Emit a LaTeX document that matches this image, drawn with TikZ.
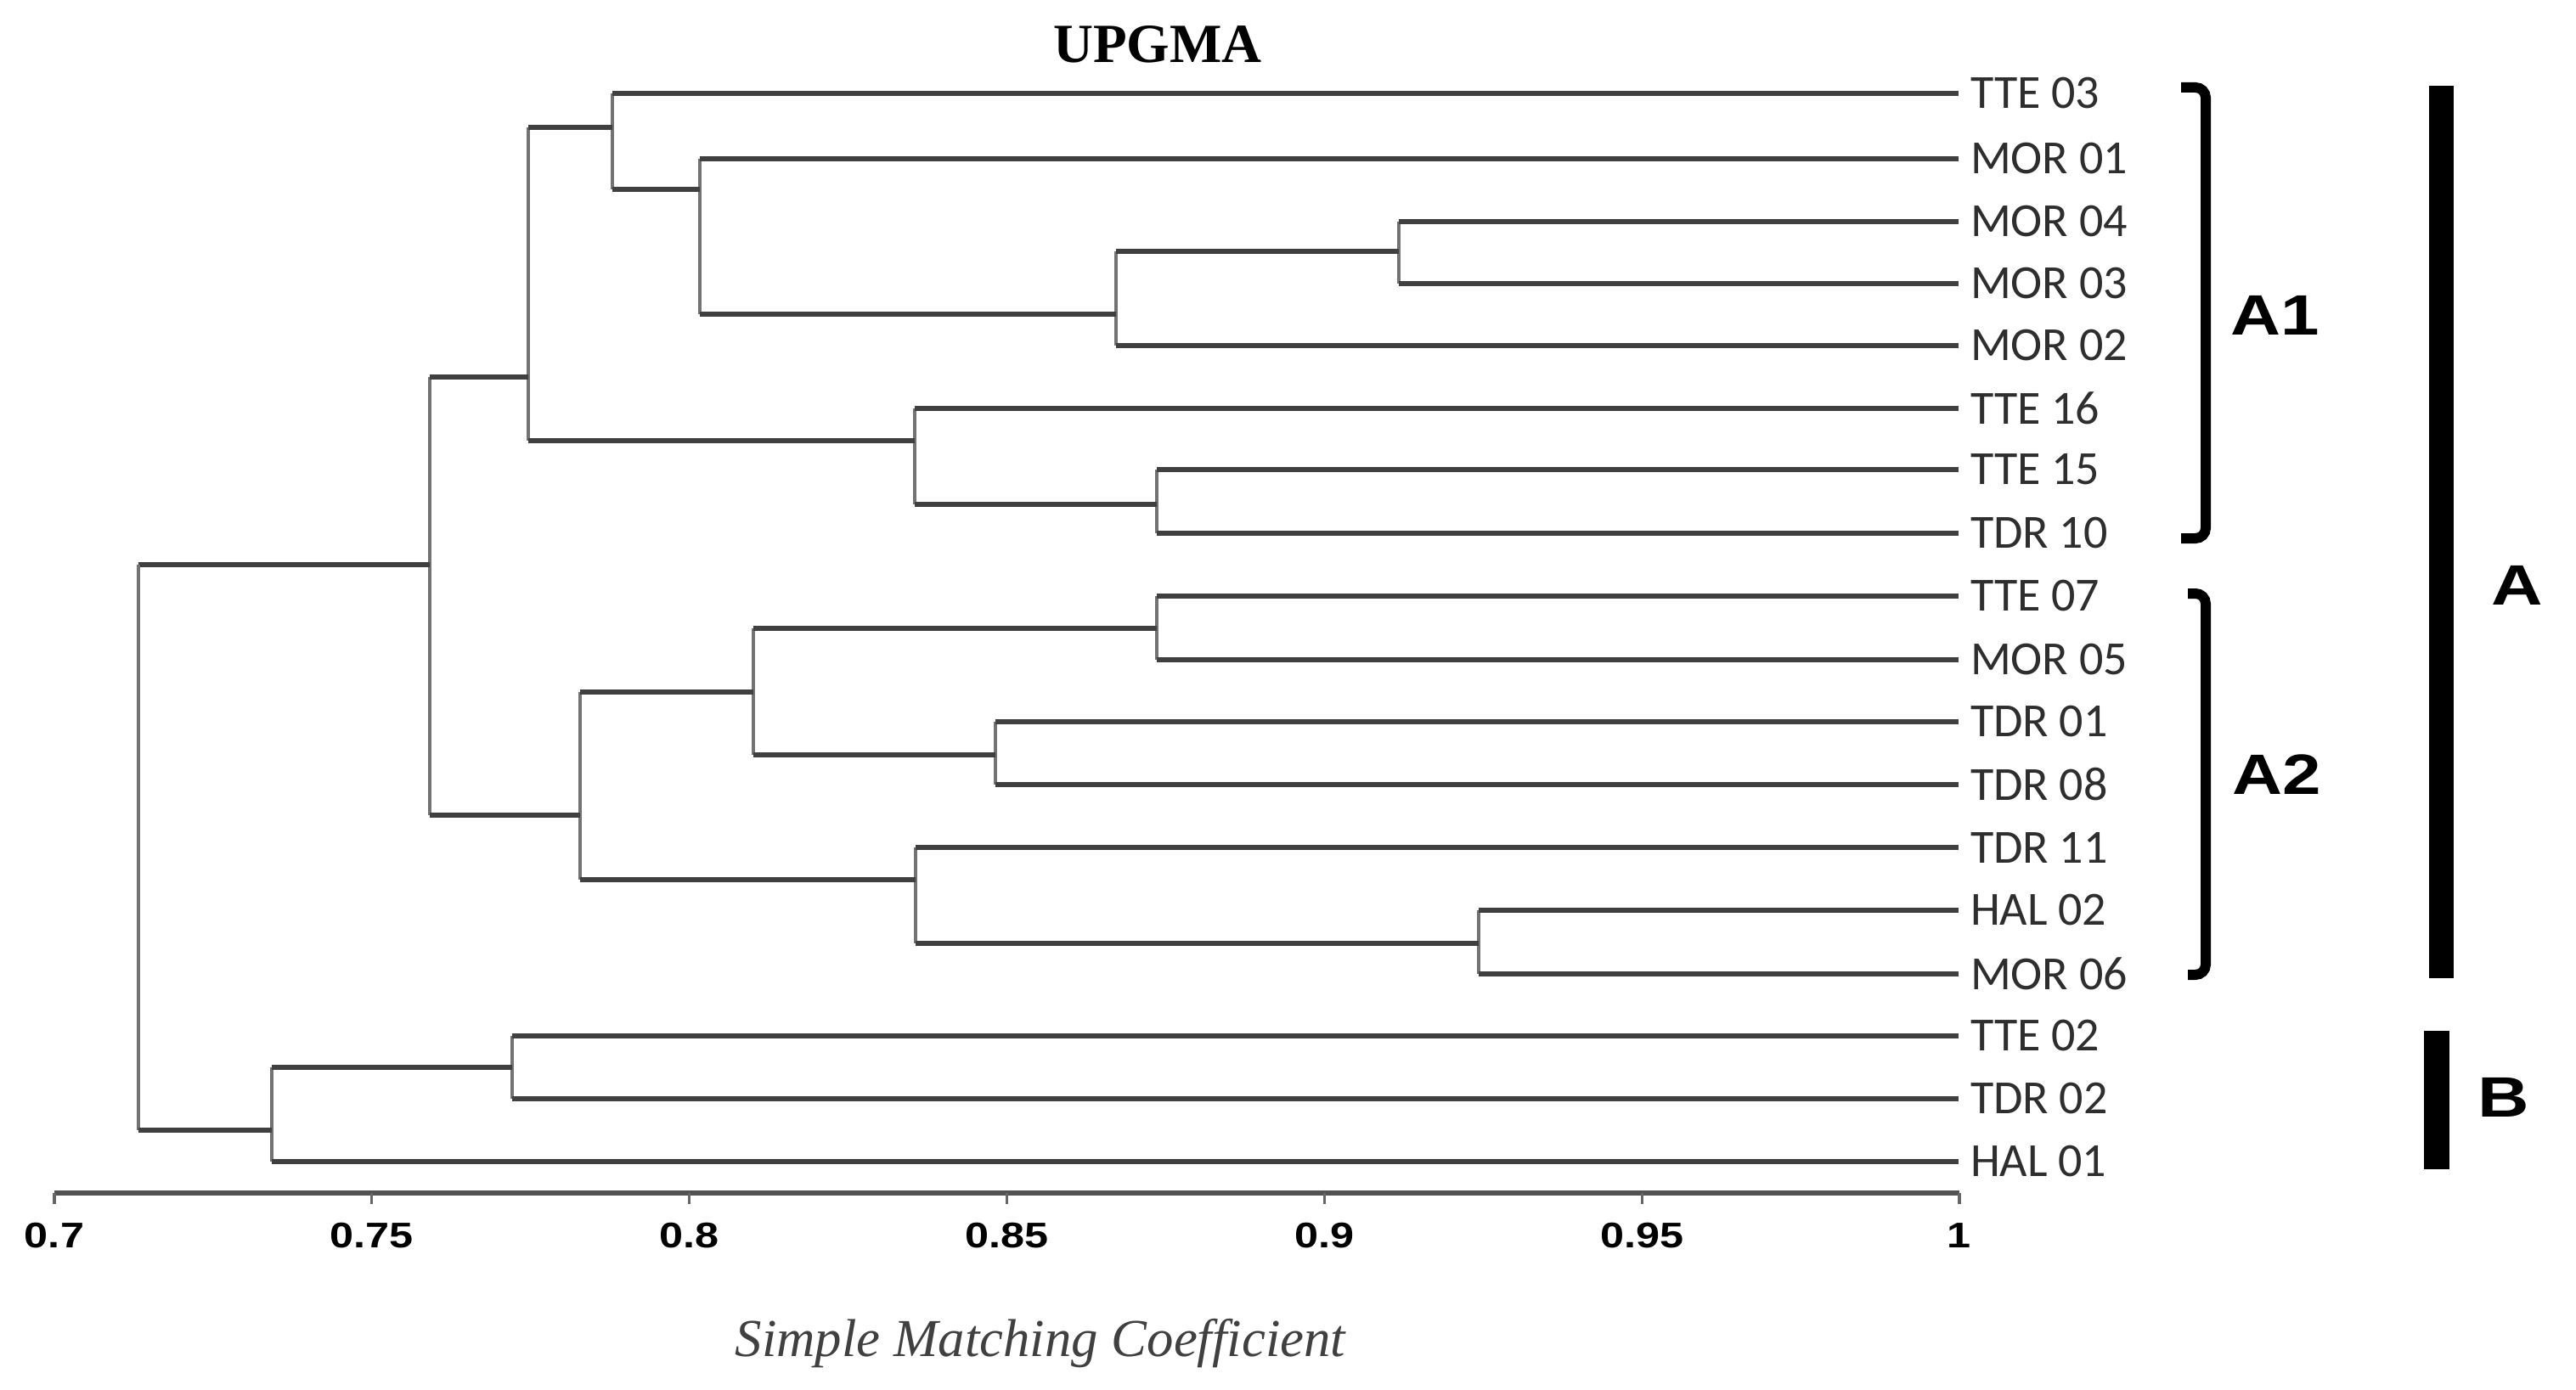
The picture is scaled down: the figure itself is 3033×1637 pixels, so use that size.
\documentclass[tikz,border=0pt]{standalone}
\usepackage{fontspec}
\usepackage{graphicx}
\setmainfont{Liberation Serif}
\newfontfamily\leaffont{Carlito}
\newfontfamily\arialfont{Liberation Sans}
\tikzset{
  hline/.style={draw=black!75, line width=1.35pt},
  vline/.style={draw=black!55, line width=0.95pt},
  leaf/.style={font=\leaffont\fontsize{14}{16}\selectfont, text=black!82, inner sep=0pt, outer xsep=3.5pt, outer ysep=0pt, anchor=west},
  ticklab/.style={font=\arialfont\bfseries\fontsize{10.5}{12}\selectfont, inner sep=0pt},
  grouplab/.style={font=\arialfont\bfseries\fontsize{16.75}{19}\selectfont, inner sep=0pt},
  bracketline/.style={draw=black, line width=3pt, rounded corners=3pt},
  axisline/.style={draw=black!68, line width=1.5pt},
  tickline/.style={draw=black!60, line width=0.8pt}
}
\newcommand\dconn[2]{\draw[vline] (#1) -- (#1 |- #2); \draw[hline] (#1 |- #2) -- (#2);}
\begin{document}
\begin{tikzpicture}[x=0.25pt,y=-0.25pt]
\useasboundingbox (0,0) rectangle (3033,1637);
\fill[white] (0,0) rectangle (3033,1637);

% title
\node[font=\bfseries\fontsize{16.25}{18}\selectfont, inner sep=0pt] (title) at (1363,52) {UPGMA};

% leaves
\node[leaf] (tte03) at (2306,110) {TTE 03};
\node[leaf] (mor01) at (2306,187) {MOR 01};
\node[leaf] (mor04) at (2306,261) {MOR 04};
\node[leaf] (mor03) at (2306,334) {MOR 03};
\node[leaf] (mor02) at (2306,407) {MOR 02};
\node[leaf] (tte16) at (2306,481) {TTE 16};
\node[leaf] (tte15) at (2306,553) {TTE 15};
\node[leaf] (tdr10) at (2306,628) {TDR 10};
\node[leaf] (tte07) at (2306,702) {TTE 07};
\node[leaf] (mor05) at (2306,777) {MOR 05};
\node[leaf] (tdr01) at (2306,850) {TDR 01};
\node[leaf] (tdr08) at (2306,924) {TDR 08};
\node[leaf] (tdr11) at (2306,998) {TDR 11};
\node[leaf] (hal02) at (2306,1072) {HAL 02};
\node[leaf] (mor06) at (2306,1147) {MOR 06};
\node[leaf] (tte02) at (2306,1220) {TTE 02};
\node[leaf] (tdr02) at (2306,1294) {TDR 02};
\node[leaf] (hal01) at (2306,1368) {HAL 01};

% internal nodes
\coordinate (n4) at (1647,296);
\coordinate (n3) at (1314,370);
\coordinate (n2) at (824,223);
\coordinate (n1) at (721,150);
\coordinate (n6) at (1362,594);
\coordinate (n5) at (1077,519);
\coordinate (a1) at (622,444);
\coordinate (n8) at (1362,740);
\coordinate (n9) at (1172,889);
\coordinate (n7) at (887,815);
\coordinate (n11) at (1741,1111);
\coordinate (n10) at (1078,1036);
\coordinate (a2) at (683,960);
\coordinate (ca) at (506,665);
\coordinate (n12) at (603,1257);
\coordinate (cb) at (320,1331);
\coordinate (root) at (163,665);

% connectors
\dconn{n4}{mor04}\dconn{n4}{mor03}
\dconn{n3}{n4}\dconn{n3}{mor02}
\dconn{n2}{mor01}\dconn{n2}{n3}
\dconn{n1}{tte03}\dconn{n1}{n2}
\dconn{n6}{tte15}\dconn{n6}{tdr10}
\dconn{n5}{tte16}\dconn{n5}{n6}
\dconn{a1}{n1}\dconn{a1}{n5}
\dconn{n8}{tte07}\dconn{n8}{mor05}
\dconn{n9}{tdr01}\dconn{n9}{tdr08}
\dconn{n7}{n8}\dconn{n7}{n9}
\dconn{n11}{hal02}\dconn{n11}{mor06}
\dconn{n10}{tdr11}\dconn{n10}{n11}
\dconn{a2}{n7}\dconn{a2}{n10}
\dconn{ca}{a1}\dconn{ca}{a2}
\dconn{n12}{tte02}\dconn{n12}{tdr02}
\dconn{cb}{n12}\dconn{cb}{hal01}
\dconn{root}{ca}\dconn{root}{cb}

% axis
\coordinate (ax0) at (64,1405);
\coordinate (ax1) at (2307,1405);
\draw[axisline] (ax0) -- (ax1);
\foreach \v/\lab [count=\i from 0] in {0.7/0.7,0.75/0.75,0.8/0.8,0.85/0.85,0.9/0.9,0.95/0.95,1/1}{
  \coordinate (tk\i) at ({64+\i*373.83},1405);
  \draw[tickline] (tk\i) -- ++(0,13);
  \node[ticklab] (tl\i) at ({64+\i*373.83},1455) {\scalebox{1.2}[1]{\lab}};
}
\node[font=\itshape\fontsize{15.7}{18}\selectfont, text=black!75, inner sep=0pt, anchor=base] (axtitle) at (1225,1597) {Simple Matching Coefficient};

% brackets
\coordinate (b1t) at (2568,103);
\coordinate (b1b) at (2568,634);
\draw[bracketline] (b1t) -- (2597,103) -- (2597,634) -- (b1b);
\coordinate (b2t) at (2576,699);
\coordinate (b2b) at (2576,1148);
\draw[bracketline] (b2t) -- (2597,699) -- (2597,1148) -- (b2b);
\node[grouplab, anchor=west] (la1) at (2626,371) {\scalebox{1.22}[1]{A1}};
\node[grouplab, anchor=west] (la2) at (2628,912) {\scalebox{1.22}[1]{A2}};

% bars
\fill[black] (2860,101) rectangle (2889,1152);
\fill[black] (2854,1214) rectangle (2884,1377);
\node[grouplab] (la) at (2964,689) {\scalebox{1.25}[1]{A}};
\node[grouplab] (lb) at (2948,1292) {\scalebox{1.25}[1]{B}};
\end{tikzpicture}
\end{document}
